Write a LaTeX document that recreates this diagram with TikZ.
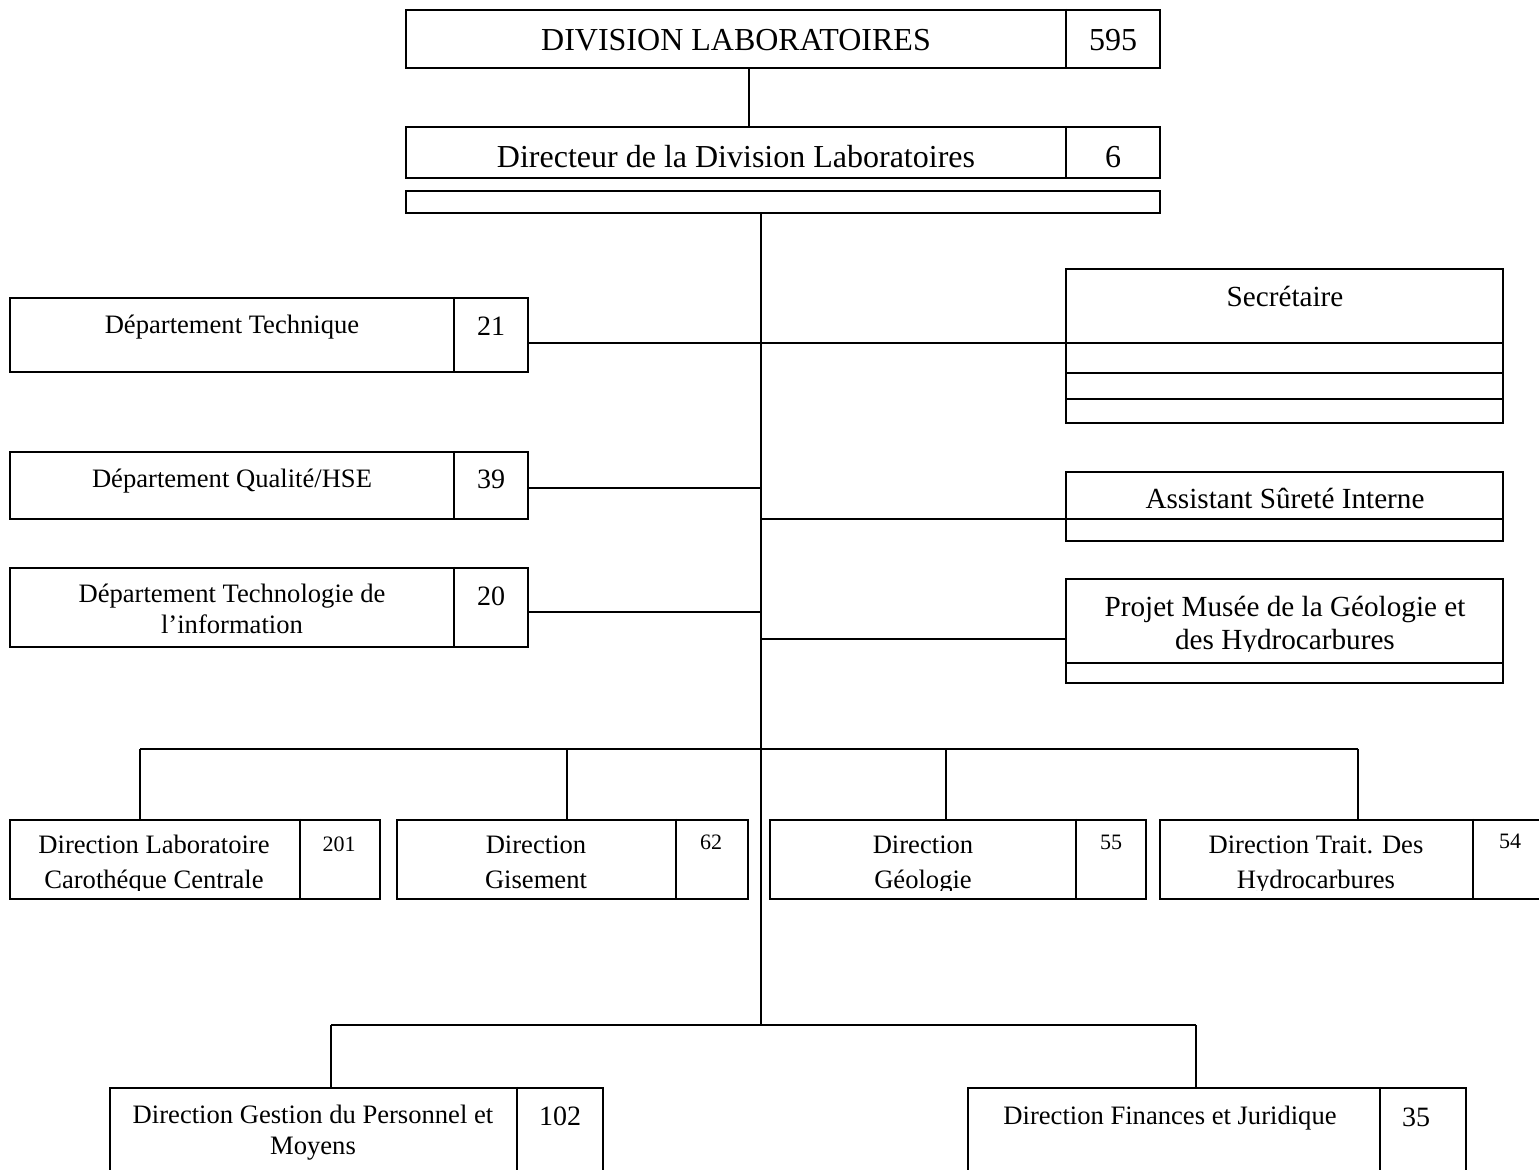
\documentclass[tikz,border=0pt]{standalone}
\usepackage{fontspec}
\setmainfont{Liberation Serif}
\usetikzlibrary{fit}
\begin{document}
\begin{tikzpicture}[x=0.5pt,y=-0.5pt,line width=1pt,
  box/.style={draw,rectangle,inner sep=0pt,line width=1pt},
  tx/.style={inner sep=0pt,anchor=base,align=center},
  fbig/.style={font=\fontsize{16}{19}\selectfont},
  fmid/.style={font=\fontsize{14.6}{16.5}\selectfont},
  fdep/.style={font=\fontsize{13.3}{15.5}\selectfont},
  frow/.style={font=\fontsize{13.3}{17.5}\selectfont},
  fnum/.style={font=\fontsize{14}{16}\selectfont},
  fsm/.style={font=\fontsize{11}{13}\selectfont}]
\useasboundingbox (0,0) rectangle (1539,1170);

% top
\node[box,fit={(406,10) (1160,68)}] (top) {};
\draw (top.north -| 1066,0) -- (top.south -| 1066,0);
\node[tx,fbig] (topT) at (736,51) {DIVISION LABORATOIRES};
\node[tx,fbig] (topN) at (1113,51) {595};

\node[box,fit={(406,127) (1160,178)}] (dir) {};
\draw (dir.north -| 1066,0) -- (dir.south -| 1066,0);
\node[tx,fbig] (dirT) at (736,168) {Directeur de la Division Laboratoires};
\node[tx,fbig] (dirN) at (1113,168) {6};

\node[box,fit={(406,191) (1160,213)}] (bar) {};

\draw (top.south -| 749,0) -- (dir.north -| 749,0);

\coordinate (spTop) at (bar.south -| 761,0);
\coordinate (spBot) at (761,1025);
\draw (spTop) -- (spBot);

% left departments
\node[box,fit={(10,298) (528,372)}] (dt) {};
\draw (dt.north -| 454,0) -- (dt.south -| 454,0);
\node[tx,fdep] (dtT) at (232,334) {Département Technique};
\node[tx,fnum] (dtN) at (491,336) {21};

\node[box,fit={(10,452) (528,519)}] (dq) {};
\draw (dq.north -| 454,0) -- (dq.south -| 454,0);
\node[tx,fdep] (dqT) at (232,488) {Département Qualité/HSE};
\node[tx,fnum] (dqN) at (491,489) {39};

\node[box,fit={(10,568) (528,647)}] (dti) {};
\draw (dti.north -| 454,0) -- (dti.south -| 454,0);
\node[tx,fdep] (dtiT) at (232,634) {Département Technologie de\\l’information};
\node[tx,fnum] (dtiN) at (491,606) {20};

% right boxes
\node[box,fit={(1066,269) (1503,423)}] (sec) {};
\node[tx,fmid] (secT) at (1285,307) {Secrétaire};
\draw (sec.west |- 0,373) -- (sec.east |- 0,373);
\draw (sec.west |- 0,399) -- (sec.east |- 0,399);

\node[box,fit={(1066,472) (1503,541)}] (asi) {};
\node[tx,fmid] (asiT) at (1285,509) {Assistant Sûreté Interne};
\draw (asi.west |- 0,519) -- (asi.east |- 0,519);

\node[box,fit={(1066,579) (1503,683)}] (pm) {};
\begin{scope}
\clip (pm.north west) rectangle (pm.east |- 0,652);
\node[tx,fmid] (pmT) at (1285,650) {Projet Musée de la Géologie et\\des Hydrocarbures};
\end{scope}
\draw (pm.west |- 0,663) -- (pm.east |- 0,663);

% side connectors
\draw (dt.east |- 0,343) -- (sec.west |- 0,343) -- (sec.east |- 0,343);
\draw (dq.east |- 0,488) -- (spTop |- 0,488);
\draw (spTop |- 0,519) -- (asi.west |- 0,519);
\draw (dti.east |- 0,612) -- (spTop |- 0,612);
\draw (spTop |- 0,639) -- (pm.west |- 0,639);

% directions row
\coordinate (busL) at (140,749);
\coordinate (busR) at (1358,749);
\draw (busL) -- (busR);

\node[box,fit={(10,820) (380,899)}] (d1) {};
\node[box,fit={(397,820) (748,899)}] (d2) {};
\node[box,fit={(770,820) (1146,899)}] (d3) {};
\node[box,fit={(1160,820) (1545,899)}] (d4) {};
\draw (d1.north -| 300,0) -- (d1.south -| 300,0);
\draw (d2.north -| 676,0) -- (d2.south -| 676,0);
\draw (d3.north -| 1076,0) -- (d3.south -| 1076,0);
\draw (d4.north -| 1473,0) -- (d4.south -| 1473,0);

\draw (busL) -- (d1.north -| busL);
\draw (busL -| 567,0) -- (d2.north -| 567,0);
\draw (busL -| 946,0) -- (d3.north -| 946,0);
\draw (busR) -- (d4.north -| busR);

\begin{scope}
\clip (d1.north west) rectangle (d1.east |- 0,891);
\node[tx,frow] (d1T) at (154,889) {Direction Laboratoire\\Carothéque Centrale};
\end{scope}
\begin{scope}
\clip (d2.north west) rectangle (d2.east |- 0,891);
\node[tx,frow] (d2T) at (536,889) {Direction\\Gisement};
\end{scope}
\begin{scope}
\clip (d3.north west) rectangle (d3.east |- 0,891);
\node[tx,frow] (d3T) at (923,889) {Direction\\Géologie};
\end{scope}
\begin{scope}
\clip (d4.north west) rectangle (d4.east |- 0,891);
\node[tx,frow] (d4T) at (1316,889) {Direction Trait. Des\\Hydrocarbures};
\end{scope}
\node[tx,fsm] (d1N) at (339,852) {201};
\node[tx,fsm] (d2N) at (711,850) {62};
\node[tx,fsm] (d3N) at (1111,850) {55};
\node[tx,fsm] (d4N) at (1510,849) {54};

% bottom row
\coordinate (bus2L) at (331,1025);
\coordinate (bus2R) at (1196,1025);
\draw (bus2L) -- (bus2R);
\node[box,fit={(110,1088) (603,1200)}] (b1) {};
\node[box,fit={(968,1088) (1466,1200)}] (b2) {};
\draw (b1.north -| 517,0) -- (b1.south -| 517,0);
\draw (b2.north -| 1380,0) -- (b2.south -| 1380,0);
\draw (bus2L) -- (b1.north -| bus2L);
\draw (bus2R) -- (b2.north -| bus2R);
\node[tx,fdep] (b1T) at (313,1154) {Direction Gestion du Personnel et\\Moyens};
\node[tx,fnum] (b1N) at (560,1126) {102};
\node[tx,fdep] (b2T) at (1170,1124) {Direction Finances et Juridique};
\node[tx,fnum] (b2N) at (1416,1127) {35};
\end{tikzpicture}
\end{document}
